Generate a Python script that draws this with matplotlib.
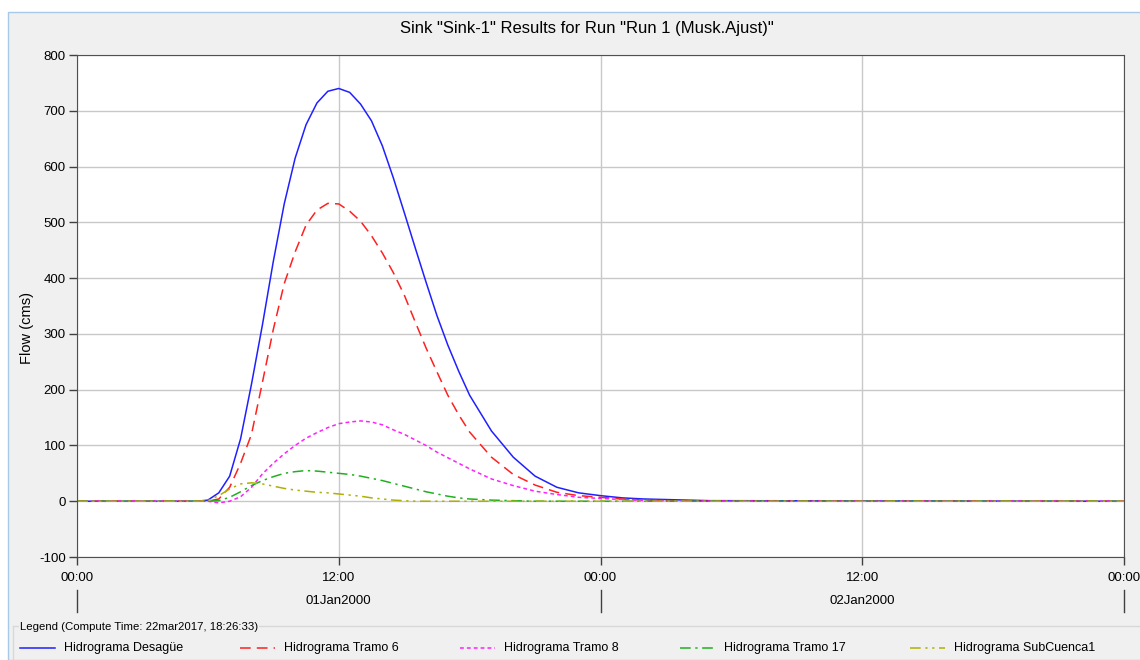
import matplotlib
matplotlib.use("Agg")
import matplotlib.pyplot as plt
from matplotlib.lines import Line2D
from matplotlib.patches import Rectangle
from matplotlib.transforms import blended_transform_factory

plt.rcParams["font.family"] = ["Liberation Sans", "DejaVu Sans"]
plt.rcParams["axes.unicode_minus"] = False

# hours since 01Jan2000 00:00
hours = [0, 5, 5.5, 6, 6.5, 7, 7.5, 8, 8.5, 9, 9.5, 10, 10.5, 11, 11.5,
         12, 12.5, 13, 13.5, 14, 14.5, 15, 15.5, 16, 16.5, 17, 17.5, 18,
         19, 20, 21, 22, 23, 24, 25, 26, 27, 28, 29, 48]

desague = [0, 0, 0, 2, 15, 45, 112, 210, 316, 430, 533, 615, 675, 714, 735,
           740, 733, 712, 682, 637, 580, 518, 455, 393, 333, 280, 233, 190,
           126, 79, 45, 25, 15, 10, 6, 4, 3, 2, 1, 0]
tramo6 = [0, 0, 0, 0, 4, 25, 68, 120, 213, 308, 390, 447, 495, 522, 534,
          533, 520, 502, 476, 445, 410, 370, 322, 275, 232, 190, 155, 124,
          79, 48, 29, 16, 10, 7, 4, 2, 1, 0, 0, 0]
tramo8 = [0, 0, 0, 0, -3, 0, 8, 25, 49, 68, 85, 100, 113, 123, 132,
          139, 142, 144, 142, 137, 128, 120, 110, 100, 88, 78, 68, 58,
          40, 28, 18, 12, 7, 5, 3, 1.5, 1, 0, 0, 0]
tramo17 = [0, 0, 0, 0, 1, 7, 17, 28, 37, 44, 50, 53, 55, 54, 52,
           50, 48, 45, 41, 37, 32, 27, 22, 17, 13, 9, 6, 4,
           2, 1, 0, 0, 0, 0, 0, 0, 0, 0, 0, 0]
subcuenca1 = [0, 0, 0, 1, 10, 22, 31, 33, 31, 27, 23, 20, 18, 16, 15,
              13, 11, 9, 6, 4, 2, 1, 0, 0, 0, 0, 0, 0,
              0, 0, 0, 0, 0, 0, 0, 0, 0, 0, 0, 0]

series = [
    ("Hidrograma Desagüe", desague, "#2020ff", "-"),
    ("Hidrograma Tramo 6", tramo6, "#ff2020", (0, (7, 4))),
    ("Hidrograma Tramo 8", tramo8, "#ff20ff", (0, (2.5, 2))),
    ("Hidrograma Tramo 17", tramo17, "#20b020", (0, (7, 3, 1.5, 3))),
    ("Hidrograma SubCuenca1", subcuenca1, "#b0b000", (0, (7, 3, 1.5, 3, 1.5, 3))),
]

x_ticks = [0, 12, 24, 36, 48]
x_tick_labels = ["00:00", "12:00", "00:00", "12:00", "00:00"]
day_labels = [(12, "01Jan2000"), (36, "02Jan2000")]

W, H = 1140, 660
fig = plt.figure(figsize=(11.4, 6.6), dpi=100)
fig.patch.set_facecolor("white")
fig.add_artist(Rectangle((8 / W, 0), 1.0, 1 - 12 / H, transform=fig.transFigure,
                         facecolor="#f0f0f0", edgecolor="#a8c8e8", linewidth=1, zorder=-10))

ax = fig.add_axes([77 / W, 1 - 557 / H, (1124 - 77) / W, (557 - 55) / H])

for label, vals, color, ls in series:
    ax.plot(hours, vals, color=color, linestyle=ls, linewidth=1.1, label=label)

ax.set_xlim(0, 48)
ax.set_ylim(-100, 800)
ax.set_yticks(range(-100, 801, 100))
ax.set_xticks(x_ticks)
ax.set_xticklabels(x_tick_labels)
ax.grid(True, color="#c8c8c8", linewidth=1)
ax.set_axisbelow(True)
ax.tick_params(direction="out", length=6, width=1, color="#404040", labelsize=9.5, pad=2)
ax.tick_params(axis="x", pad=5)
for s in ax.spines.values():
    s.set_color("#505050")

ax.set_ylabel("Flow (cms)", fontsize=10.5)
ax.yaxis.set_label_coords((34 - 77) / 1047, (557 - 328) / 502)
fig.text(587 / W, 1 - 29 / H, 'Sink "Sink-1" Results for Run "Run 1 (Musk.Ajust)"',
         ha="center", va="center", fontsize=12)

# date row below the time labels
tr = blended_transform_factory(ax.transData, ax.transAxes)
for h, txt in day_labels:
    ax.text(h, -0.088, txt, transform=tr, ha="center", va="center", fontsize=9.5, clip_on=False)
for h in [0, 24, 48]:
    ax.add_line(Line2D([h, h], [-0.066, -0.11], transform=tr, color="#404040",
                       linewidth=1, clip_on=False))

# legend group box
fig.add_artist(Line2D([13 / W, 1.0], [1 - 626 / H] * 2, transform=fig.transFigure,
                      color="#d8d8d8", linewidth=1))
fig.add_artist(Line2D([13 / W] * 2, [0, 1 - 626 / H], transform=fig.transFigure,
                      color="#d8d8d8", linewidth=1))
fig.text(20 / W, 1 - 627 / H, "Legend (Compute Time: 22mar2017, 18:26:33)",
         ha="left", va="center", fontsize=8.2,
         bbox=dict(facecolor="#f0f0f0", edgecolor="none", pad=1))

legend_x = [20, 240, 460, 680, 910]
ly = 1 - 648 / H
for x0, (label, vals, color, ls) in zip(legend_x, series):
    fig.add_artist(Line2D([x0 / W, (x0 + 35) / W], [ly, ly], transform=fig.transFigure,
                          color=color, linestyle=ls, linewidth=1.1))
    fig.text((x0 + 44) / W, ly, label, ha="left", va="center", fontsize=9)

fig.savefig("out.png", dpi=100, facecolor=fig.get_facecolor())
